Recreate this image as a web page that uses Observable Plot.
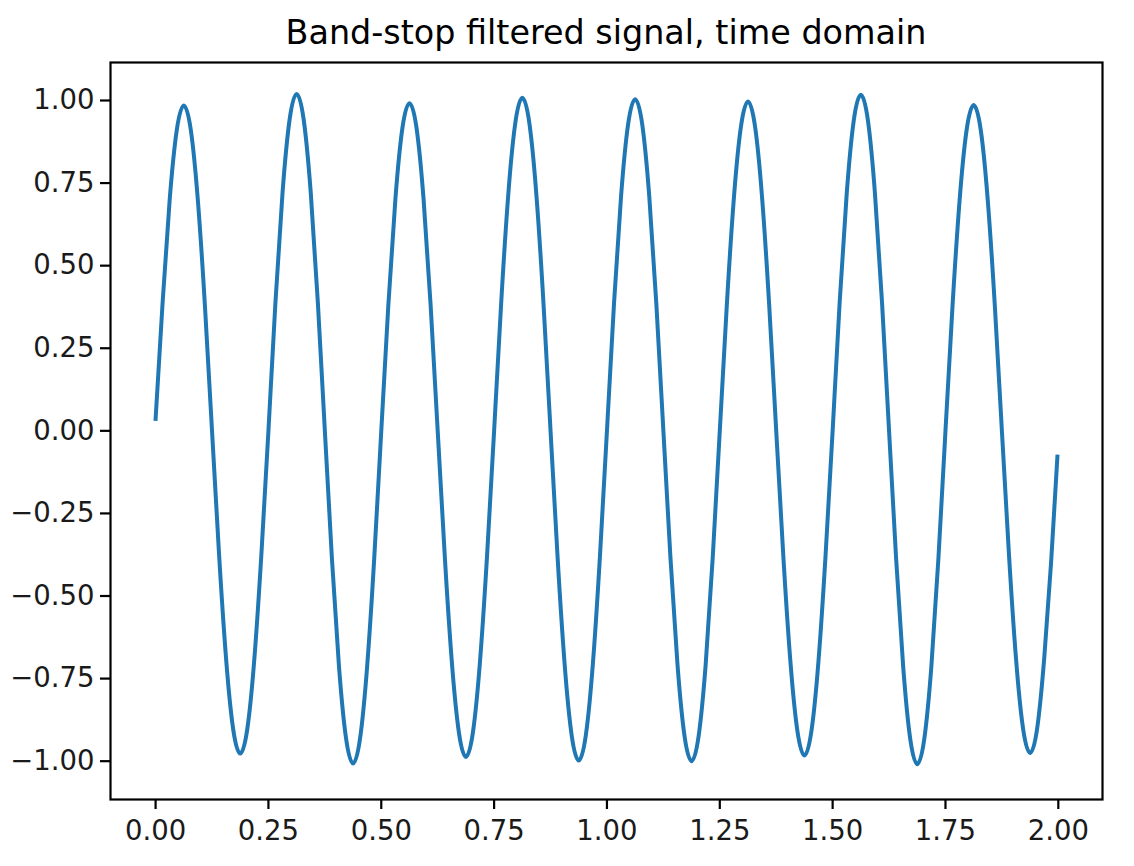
<!DOCTYPE html>
<html>
<head>
<meta charset="utf-8">
<script src="https://cdn.jsdelivr.net/npm/d3@7"></script>
<script src="https://cdn.jsdelivr.net/npm/@observablehq/plot@0.6"></script>
<style>
  html, body { margin: 0; padding: 0; background: #ffffff; }
  #chart { width: 1134px; height: 866px; font-family: "DejaVu Sans", sans-serif; }
  #title {
    box-sizing: border-box;
    height: 51px;
    padding-top: 16px;
    margin-left: 110px;
    width: 992px;
    line-height: 34px;
    font-size: 33.4px;
    text-align: center;
    color: #000;
    white-space: nowrap;
  }
</style>
</head>
<body>
<div id="chart">
  <div id="title">Band-stop filtered signal, time domain</div>
</div>
<script>
const titleText = "Band-stop filtered signal, time domain";

const time = [
  0, 0.015625, 0.03125, 0.046875, 0.0625, 0.078125, 0.09375, 0.109375,
  0.125, 0.140625, 0.15625, 0.171875, 0.1875, 0.203125, 0.21875, 0.234375,
  0.25, 0.265625, 0.28125, 0.296875, 0.3125, 0.328125, 0.34375, 0.359375,
  0.375, 0.390625, 0.40625, 0.421875, 0.4375, 0.453125, 0.46875, 0.484375,
  0.5, 0.515625, 0.53125, 0.546875, 0.5625, 0.578125, 0.59375, 0.609375,
  0.625, 0.640625, 0.65625, 0.671875, 0.6875, 0.703125, 0.71875, 0.734375,
  0.75, 0.765625, 0.78125, 0.796875, 0.8125, 0.828125, 0.84375, 0.859375,
  0.875, 0.890625, 0.90625, 0.921875, 0.9375, 0.953125, 0.96875, 0.984375,
  1, 1.015625, 1.03125, 1.046875, 1.0625, 1.078125, 1.09375, 1.109375,
  1.125, 1.140625, 1.15625, 1.171875, 1.1875, 1.203125, 1.21875, 1.234375,
  1.25, 1.265625, 1.28125, 1.296875, 1.3125, 1.328125, 1.34375, 1.359375,
  1.375, 1.390625, 1.40625, 1.421875, 1.4375, 1.453125, 1.46875, 1.484375,
  1.5, 1.515625, 1.53125, 1.546875, 1.5625, 1.578125, 1.59375, 1.609375,
  1.625, 1.640625, 1.65625, 1.671875, 1.6875, 1.703125, 1.71875, 1.734375,
  1.75, 1.765625, 1.78125, 1.796875, 1.8125, 1.828125, 1.84375, 1.859375,
  1.875, 1.890625, 1.90625, 1.921875, 1.9375, 1.953125, 1.96875, 1.984375,
  1.998
];

const signal = [
  0.036, 0.390, 0.700, 0.910, 0.985, 0.910, 0.696, 0.377,
  0.000, -0.374, -0.691, -0.903, -0.977, -0.903, -0.691, -0.374,
  0.000, 0.391, 0.721, 0.942, 1.020, 0.942, 0.721, 0.391,
  0.000, -0.386, -0.712, -0.930, -1.007, -0.930, -0.712, -0.386,
  0.000, 0.380, 0.701, 0.917, 0.992, 0.917, 0.701, 0.380,
  0.000, -0.378, -0.698, -0.912, -0.987, -0.912, -0.698, -0.378,
  0.000, 0.386, 0.713, 0.931, 1.008, 0.931, 0.713, 0.386,
  0.000, -0.382, -0.706, -0.922, -0.998, -0.922, -0.706, -0.382,
  0.000, 0.385, 0.710, 0.928, 1.004, 0.928, 0.710, 0.385,
  0.000, -0.383, -0.707, -0.924, -1.000, -0.924, -0.707, -0.383,
  0.000, 0.382, 0.705, 0.921, 0.997, 0.921, 0.705, 0.382,
  0.000, -0.376, -0.695, -0.908, -0.983, -0.908, -0.695, -0.376,
  0.000, 0.390, 0.719, 0.940, 1.017, 0.940, 0.719, 0.390,
  0.000, -0.386, -0.713, -0.932, -1.009, -0.932, -0.713, -0.386,
  0.000, 0.378, 0.697, 0.911, 0.986, 0.911, 0.697, 0.378,
  0.000, -0.373, -0.689, -0.901, -0.975, -0.901, -0.689, -0.390,
  -0.078
];

const xTicks = [0, 0.25, 0.5, 0.75, 1.0, 1.25, 1.5, 1.75, 2.0];
const yTicks = [-1.0, -0.75, -0.5, -0.25, 0, 0.25, 0.5, 0.75, 1.0];

const data = time.map((t, i) => ({t, v: signal[i]}));
const fmt = d3.format(".2f");

const plot = Plot.plot({
  width: 1134,
  height: 815,
  marginTop: 11,
  marginBottom: 67,
  marginLeft: 110,
  marginRight: 32,
  style: {fontFamily: "DejaVu Sans, sans-serif", fontSize: "27.5px", color: "#000", background: "#fff"},
  x: {domain: [-0.0999, 2.0979]},
  y: {domain: [-1.116, 1.115]},
  marks: [
    Plot.line(data, {x: "t", y: "v", stroke: "#1f77b4", strokeWidth: 4, curve: "natural", strokeLinecap: "square"}),
    Plot.axisX({ticks: xTicks, tickFormat: fmt, tickSize: 10, tickPadding: 11, strokeWidth: 2.2, stroke: "#000", fill: "#1a1a1a", label: null, fontSize: 27.5}),
    Plot.axisY({ticks: yTicks, tickFormat: fmt, tickSize: 10, tickPadding: 6, strokeWidth: 2.2, stroke: "#000", fill: "#1a1a1a", label: null, fontSize: 27.5}),
    Plot.frame({stroke: "#000", strokeWidth: 2.2})
  ]
});
document.getElementById("chart").appendChild(plot);
</script>
</body>
</html>
